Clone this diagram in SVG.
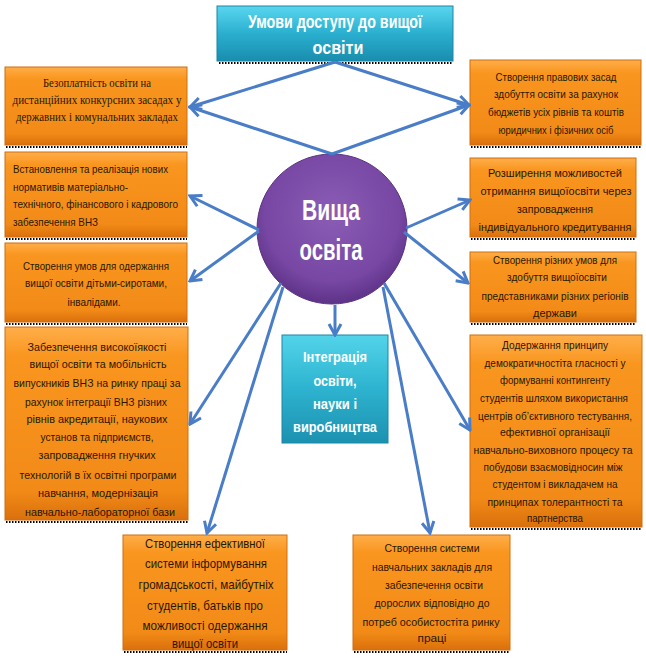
<svg xmlns="http://www.w3.org/2000/svg" width="646" height="659" viewBox="0 0 646 659">
<defs>
<linearGradient id="org" x1="0" y1="0" x2="0" y2="1">
<stop offset="0" stop-color="#FFAE4A"/>
<stop offset="0.15" stop-color="#F9961F"/>
<stop offset="0.85" stop-color="#F28A17"/>
<stop offset="1" stop-color="#D9700C"/>
</linearGradient>
<linearGradient id="teal" x1="0" y1="0" x2="0" y2="1">
<stop offset="0" stop-color="#5AD6EE"/>
<stop offset="0.5" stop-color="#2AAFCF"/>
<stop offset="1" stop-color="#1A8DAE"/>
</linearGradient>
<linearGradient id="teal2" x1="0" y1="0" x2="0" y2="1">
<stop offset="0" stop-color="#52D4EA"/>
<stop offset="0.5" stop-color="#2DB3CF"/>
<stop offset="1" stop-color="#1C91B0"/>
</linearGradient>
<radialGradient id="purp" cx="0.5" cy="0.4" r="0.6">
<stop offset="0" stop-color="#8A5DB5"/>
<stop offset="0.75" stop-color="#7747A3"/>
<stop offset="1" stop-color="#5E3287"/>
</radialGradient>
<marker id="arr" markerUnits="userSpaceOnUse" markerWidth="16" markerHeight="16" viewBox="0 0 16 16" refX="14" refY="8" orient="auto">
<path d="M3,2 L14,8 L3,14" fill="none" stroke="#4A7DC8" stroke-width="3" stroke-linejoin="miter"/>
</marker>
</defs>
<style>
.box{fill:url(#org);stroke:#D06E0E;stroke-width:1}
.shd{stroke:#000;stroke-width:2;stroke-dasharray:1.5 1.5;fill:none}
.t{font-family:"Liberation Sans",Arial,sans-serif;font-size:11px;fill:#2A1800;text-anchor:middle}
.ts{font-family:"Liberation Serif","Times New Roman",serif;font-size:12px;fill:#2A1800;text-anchor:middle}
.tb{font-family:"Liberation Sans",Arial,sans-serif;font-size:13px;fill:#2A1800;text-anchor:middle}
.tl{text-anchor:start}
.w{font-family:"Liberation Sans",Arial,sans-serif;font-weight:bold;fill:#FFFFFF;text-anchor:middle}
.c{fill:none;stroke:#4A7DC8;stroke-width:3;marker-end:url(#arr)}
</style>
<rect width="646" height="659" fill="#FFFFFF"/>

<g id="title">
<rect x="217" y="6" width="236" height="55" fill="url(#teal)" stroke="#1B86A6"/>
<line class="shd" x1="219" y1="63" x2="453" y2="63"/>
<text class="w" font-size="18" x="335" y="28" textLength="174" lengthAdjust="spacingAndGlyphs">Умови доступу до вищої</text>
<text class="w" font-size="18" x="338" y="54" textLength="51" lengthAdjust="spacingAndGlyphs">освіти</text>
</g>

<g id="left1">
<rect class="box" x="5" y="67" width="182" height="78"/>
<line class="shd" x1="6" y1="147" x2="187" y2="147"/>
<text class="ts" x="97" y="87" textLength="108" lengthAdjust="spacingAndGlyphs">Безоплатність освіти на</text>
<text class="ts" x="97" y="104" textLength="169" lengthAdjust="spacingAndGlyphs">дистанційних конкурсних засадах у</text>
<text class="ts" x="97" y="121" textLength="162" lengthAdjust="spacingAndGlyphs">державних і комунальних закладах</text>
</g>

<g id="left2">
<rect class="box" x="5" y="152" width="182" height="85"/>
<line class="shd" x1="6" y1="239" x2="187" y2="239"/>
<text class="t tl" x="13" y="173" textLength="155" lengthAdjust="spacingAndGlyphs">Встановлення та реалізація нових</text>
<text class="t tl" x="13" y="191" textLength="115" lengthAdjust="spacingAndGlyphs">нормативів матеріально-</text>
<text class="t tl" x="13" y="208" textLength="165" lengthAdjust="spacingAndGlyphs">технічного, фінансового і кадрового</text>
<text class="t tl" x="13" y="226" textLength="85" lengthAdjust="spacingAndGlyphs">забезпечення ВНЗ</text>
</g>

<g id="left3">
<rect class="box" x="5" y="243" width="182" height="79"/>
<line class="shd" x1="6" y1="324" x2="187" y2="324"/>
<text class="t" x="96" y="270" textLength="146" lengthAdjust="spacingAndGlyphs">Створення умов для одержання</text>
<text class="t" x="96" y="287" textLength="142" lengthAdjust="spacingAndGlyphs">вищої освіти дітьми-сиротами,</text>
<text class="t" x="94" y="306" textLength="53" lengthAdjust="spacingAndGlyphs">інвалідами.</text>
</g>

<g id="left4">
<rect class="box" x="5" y="327" width="183" height="193"/>
<line class="shd" x1="6" y1="522" x2="188" y2="522"/>
<text class="t" x="97" y="351" textLength="139" lengthAdjust="spacingAndGlyphs">Забезпечення високоїякості</text>
<text class="t" x="98" y="368" textLength="137" lengthAdjust="spacingAndGlyphs">вищої освіти та мобільність</text>
<text class="t" x="97" y="387" textLength="167" lengthAdjust="spacingAndGlyphs">випускників ВНЗ на ринку праці за</text>
<text class="t" x="96" y="406" textLength="142" lengthAdjust="spacingAndGlyphs">рахунок інтеграції ВНЗ різних</text>
<text class="t" x="97" y="423" textLength="141" lengthAdjust="spacingAndGlyphs">рівнів  акредитації, наукових</text>
<text class="t" x="97" y="441" textLength="113" lengthAdjust="spacingAndGlyphs">установ та підприємств,</text>
<text class="t" x="97" y="459" textLength="117" lengthAdjust="spacingAndGlyphs">запровадження гнучких</text>
<text class="t" x="98" y="479" textLength="157" lengthAdjust="spacingAndGlyphs">технологій в їх освітні програми</text>
<text class="t" x="98" y="497" textLength="120" lengthAdjust="spacingAndGlyphs">навчання, модернізація</text>
<text class="t" x="100" y="516" textLength="150" lengthAdjust="spacingAndGlyphs">навчально-лабораторної бази</text>
</g>

<g id="right1">
<rect class="box" x="470" y="60" width="171" height="85"/>
<line class="shd" x1="471" y1="147" x2="641" y2="147"/>
<text class="t" x="556" y="81" textLength="121" lengthAdjust="spacingAndGlyphs">Створення правових засад</text>
<text class="t" x="556" y="98" textLength="124" lengthAdjust="spacingAndGlyphs">здобуття  освіти за рахунок</text>
<text class="t" x="556" y="116" textLength="136" lengthAdjust="spacingAndGlyphs">бюджетів усіх рівнів та коштів</text>
<text class="t" x="556" y="134" textLength="115" lengthAdjust="spacingAndGlyphs">юридичних і фізичних осіб</text>
</g>

<g id="right2">
<rect class="box" x="470" y="158" width="166" height="79"/>
<line class="shd" x1="471" y1="239" x2="636" y2="239"/>
<text class="t" x="555" y="177" textLength="134" lengthAdjust="spacingAndGlyphs">Розширення можливостей</text>
<text class="t" x="556" y="195" textLength="151" lengthAdjust="spacingAndGlyphs">отримання вищоїосвіти через</text>
<text class="t" x="555" y="213" textLength="76" lengthAdjust="spacingAndGlyphs">запровадження</text>
<text class="t" x="555" y="231" textLength="153" lengthAdjust="spacingAndGlyphs">індивідуального кредитування</text>
</g>

<g id="right3">
<rect class="box" x="470" y="252" width="166" height="70"/>
<line class="shd" x1="471" y1="324" x2="636" y2="324"/>
<text class="t" x="555" y="264" textLength="124" lengthAdjust="spacingAndGlyphs">Створення різних умов для</text>
<text class="t" x="557" y="281" textLength="100" lengthAdjust="spacingAndGlyphs">здобуття  вищоїосвіти</text>
<text class="t" x="555" y="300" textLength="147" lengthAdjust="spacingAndGlyphs">представниками різних регіонів</text>
<text class="t" x="555" y="317" textLength="44" lengthAdjust="spacingAndGlyphs">держави</text>
</g>

<g id="right4">
<rect class="box" x="470" y="335" width="172" height="192"/>
<line class="shd" x1="471" y1="529" x2="642" y2="529"/>
<text class="t" x="555" y="349" textLength="106" lengthAdjust="spacingAndGlyphs">Додержання принципу</text>
<text class="t" x="555" y="367" textLength="141" lengthAdjust="spacingAndGlyphs">демократичностіта гласності у</text>
<text class="t" x="555" y="384" textLength="110" lengthAdjust="spacingAndGlyphs">формуванні контингенту</text>
<text class="t" x="554" y="402" textLength="148" lengthAdjust="spacingAndGlyphs">студентів шляхом  використання</text>
<text class="t" x="555" y="420" textLength="154" lengthAdjust="spacingAndGlyphs">центрів об’єктивного тестування,</text>
<text class="t" x="555" y="436" textLength="110" lengthAdjust="spacingAndGlyphs">ефективної організації</text>
<text class="t" x="553" y="454" textLength="159" lengthAdjust="spacingAndGlyphs">навчально-виховного процесу та</text>
<text class="t" x="553" y="471" textLength="139" lengthAdjust="spacingAndGlyphs">побудови взаємовідносин між</text>
<text class="t" x="555" y="488" textLength="125" lengthAdjust="spacingAndGlyphs">студентом і викладачем на</text>
<text class="t" x="555" y="506" textLength="135" lengthAdjust="spacingAndGlyphs">принципах толерантності та</text>
<text class="t" x="555" y="522" textLength="56" lengthAdjust="spacingAndGlyphs">партнерства</text>
</g>

<g id="bottom1">
<rect class="box" x="123" y="535" width="164" height="115"/>
<line class="shd" x1="124" y1="652" x2="287" y2="652"/>
<text class="tb" x="205" y="548" textLength="120" lengthAdjust="spacingAndGlyphs">Створення ефективної</text>
<text class="tb" x="206" y="568" textLength="122" lengthAdjust="spacingAndGlyphs">системи інформування</text>
<text class="tb" x="206" y="589" textLength="135" lengthAdjust="spacingAndGlyphs">громадськості, майбутніх</text>
<text class="tb" x="205" y="610" textLength="116" lengthAdjust="spacingAndGlyphs">студентів, батьків про</text>
<text class="tb" x="205" y="630" textLength="125" lengthAdjust="spacingAndGlyphs">можливості одержання</text>
<text class="tb" x="205" y="648" textLength="66" lengthAdjust="spacingAndGlyphs">вищої освіти</text>
</g>

<g id="bottom2">
<rect class="box" x="353" y="535" width="157" height="115"/>
<line class="shd" x1="354" y1="652" x2="510" y2="652"/>
<text class="t" font-size="12" x="432" y="552" textLength="95" lengthAdjust="spacingAndGlyphs">Створення системи</text>
<text class="t" font-size="12" x="432" y="571" textLength="120" lengthAdjust="spacingAndGlyphs">навчальних закладів для</text>
<text class="t" font-size="12" x="434" y="589" textLength="98" lengthAdjust="spacingAndGlyphs">забезпечення освіти</text>
<text class="t" font-size="12" x="432" y="607" textLength="115" lengthAdjust="spacingAndGlyphs">дорослих відповідно до</text>
<text class="t" font-size="12" x="431" y="626" textLength="137" lengthAdjust="spacingAndGlyphs">потреб особистостіта ринку</text>
<text class="t" font-size="12" x="432" y="642" textLength="29" lengthAdjust="spacingAndGlyphs">праці</text>
</g>

<g id="integration">
<rect x="282" y="335" width="106" height="108" fill="url(#teal2)" stroke="#1B86A6"/>
<text class="w" font-size="15" x="335" y="362" textLength="64" lengthAdjust="spacingAndGlyphs">Інтеграція</text>
<text class="w" font-size="15" x="335" y="386" textLength="43" lengthAdjust="spacingAndGlyphs">освіти,</text>
<text class="w" font-size="15" x="335" y="409" textLength="44" lengthAdjust="spacingAndGlyphs">науки і</text>
<text class="w" font-size="15" x="335" y="432" textLength="84" lengthAdjust="spacingAndGlyphs">виробництва</text>
</g>

<g id="center">
<circle cx="332" cy="229" r="75" fill="url(#purp)" stroke="#5A3282" stroke-width="1"/>
<text class="w" font-size="30" x="331" y="220" textLength="58" lengthAdjust="spacingAndGlyphs">Вища</text>
<text class="w" font-size="30" x="331" y="260" textLength="63" lengthAdjust="spacingAndGlyphs">освіта</text>
</g>

<g id="connectors">
<path class="c" d="M335,62 L190,107"/>
<path class="c" d="M332,154 L190,107"/>
<path class="c" d="M335,62 L469,105"/>
<path class="c" d="M332,154 L469,105"/>
<path class="c" d="M259,230 L190,196"/>
<path class="c" d="M259,231 L190,281"/>
<path class="c" d="M406,228 L470,200"/>
<path class="c" d="M404,232 L468,283"/>
<path class="c" d="M335,305 L335,335"/>
<path class="c" d="M281,283 L190,424"/>
<path class="c" d="M283,287 L207,533"/>
<path class="c" d="M384,283 L470,430"/>
<path class="c" d="M383,287 L430,533"/>
</g>
</svg>
